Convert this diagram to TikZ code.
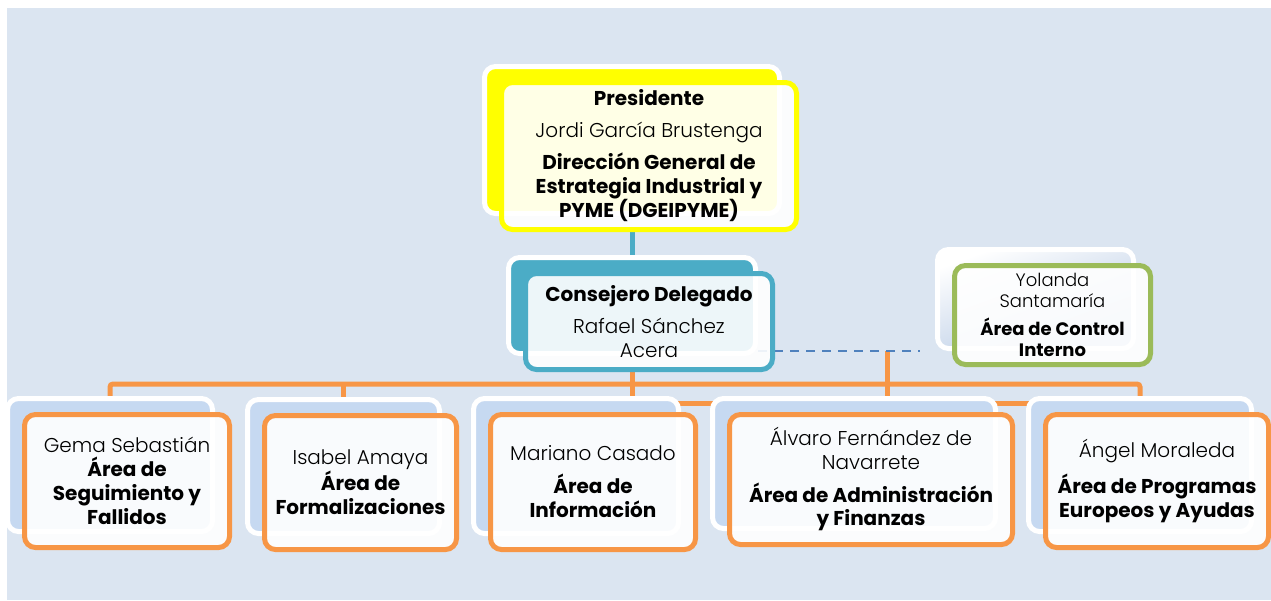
\documentclass[tikz,border=0pt]{standalone}
\usepackage{fontspec}
\setmainfont{Poppins}[UprightFont=* Light, BoldFont=* Bold]
\usetikzlibrary{shadows,backgrounds}

\definecolor{bgblue}{HTML}{DBE5F1}
\definecolor{backblue}{HTML}{C6D9F1}
\definecolor{yolblue}{HTML}{B4C8E3}
\definecolor{presyellow}{HTML}{FFFF00}
\definecolor{consteal}{HTML}{4BACC6}
\definecolor{areaorange}{HTML}{F79646}
\definecolor{ctrlgreen}{HTML}{9BBB59}
\definecolor{dashblue}{HTML}{4F81BD}

\tikzset{
  box/.style={draw=#1, line width=5pt, rounded corners=11pt, fill=white,
    fill opacity=0.9, text opacity=1, align=center, inner sep=0pt,
    font=\fontsize{20}{24}\selectfont},
  back/.style={general shadow={shadow xshift=-17pt, shadow yshift=16pt,
    fill=#1, fill opacity=1, draw=white, line width=5pt}},
  orgline/.style={draw=areaorange, line width=5pt},
  tealline/.style={draw=consteal, line width=5pt},
  dashline/.style={draw=dashblue, line width=2pt, dash pattern=on 9pt off 7pt}
}

\begin{document}
\begin{tikzpicture}[x=1pt,y=-1pt]
\useasboundingbox (0,0) rectangle (1271,600);

% cabecera
\node[box=presyellow, back=presyellow, minimum width=295pt, minimum height=147pt] (pres) at (649,156)
  {\textbf{Presidente}\\[8pt]Jordi García Brustenga\\[8pt]\textbf{Dirección General de}\\\textbf{Estrategia Industrial y}\\\textbf{PYME (DGEIPYME)}};
\node[box=consteal, back=consteal, minimum width=247pt, minimum height=96pt] (cons) at (649,321.5)
  {\textbf{Consejero Delegado}\\[8pt]Rafael Sánchez\\Acera};
\node[box=ctrlgreen, minimum width=196pt, minimum height=99pt, font=\fontsize{18}{21}\selectfont,
  general shadow={shadow xshift=-17pt, shadow yshift=16pt, top color=white, bottom color=yolblue,
    shading angle=20, fill opacity=1, draw=white, line width=5pt}] (yol) at (1052.5,315)
  {Yolanda\\Santamaría\\[7pt]\textbf{Área de Control}\\\textbf{Interno}};

% areas
\node[box=areaorange, back=backblue, minimum width=205pt, minimum height=133pt] (gema) at (127,481)
  {Gema Sebastián\\\textbf{Área de}\\\textbf{Seguimiento y}\\\textbf{Fallidos}};
\node[box=areaorange, back=backblue, minimum width=192pt, minimum height=134pt] (isa) at (360.5,482.5)
  {Isabel Amaya\\\textbf{Área de}\\\textbf{Formalizaciones}};
\node[box=areaorange, back=backblue, minimum width=205pt, minimum height=135pt] (mar) at (593,482)
  {Mariano Casado\\[9pt]\textbf{Área de}\\\textbf{Información}};
\node[box=areaorange, back=backblue, minimum width=283pt, minimum height=130pt] (alv) at (871,479.5)
  {Álvaro Fernández de\\Navarrete\\[8pt]\textbf{Área de Administración}\\\textbf{y Finanzas}};
\node[box=areaorange, back=backblue, minimum width=223pt, minimum height=133pt] (ang) at (1157,481)
  {Ángel Moraleda\\[10pt]\textbf{Área de Programas}\\\textbf{Europeos y Ayudas}};

\coordinate (bus) at (632,384);
\coordinate (bus2) at (887,403);
\coordinate (asst) at (887,351);

\begin{scope}[on background layer]
\fill[bgblue] (7,8) rectangle (1271,600);
\draw[tealline] ([xshift=-17pt]pres.south) -- ([xshift=-17pt]cons.north);
\draw[orgline] ([xshift=-17pt]cons.south) -- ([xshift=-17pt]cons.south |- mar.north);
\draw[orgline, rounded corners=3pt] ([xshift=-17pt]gema.north) -- ([xshift=-17pt]gema.north |- bus)
  -- ([xshift=-17pt]ang.north |- bus) -- ([xshift=-17pt]ang.north);
\draw[orgline] ([xshift=-17pt]isa.north |- bus) -- ([xshift=-17pt]isa.north);
\draw[orgline] (asst) -- (bus2);
\draw[orgline] (mar.north |- bus2) -- (ang.north |- bus2);
\draw[dashline, shorten >=15pt] ([xshift=-17pt]cons.east |- asst) -- ([xshift=-17pt]yol.west |- asst);
\end{scope}
\end{tikzpicture}
\end{document}
